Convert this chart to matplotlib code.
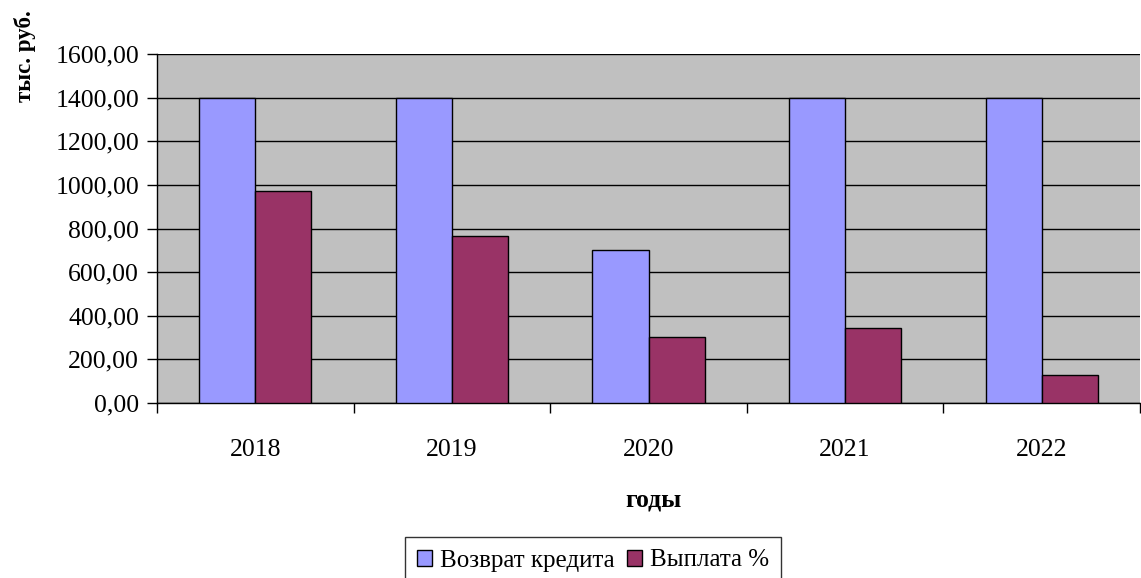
import numpy as np
import matplotlib.pyplot as plt
from matplotlib.ticker import FuncFormatter

years = ['2018', '2019', '2020', '2021', '2022']
vozvrat = [1400, 1400, 700, 1400, 1400]
vyplata = [973, 765, 303, 342, 127]

plt.rcParams['font.family'] = ['Liberation Serif', 'DejaVu Serif']

fig = plt.figure(figsize=(11.41, 5.78), dpi=100)
ax = fig.add_axes([157 / 1141, 175 / 578, 983 / 1141, 349 / 578])
ax.set_facecolor('#C0C0C0')

x = np.arange(len(years))
w = 1 / 3.5
ax.bar(x - w / 2, vozvrat, w, color='#9999FF', edgecolor='black', linewidth=1,
       label='Возврат кредита', zorder=3)
ax.bar(x + w / 2, vyplata, w, color='#993366', edgecolor='black', linewidth=1,
       label='Выплата %', zorder=3)

ax.set_xlim(-0.5, len(years) - 0.5)
ax.set_ylim(0, 1600)
ax.set_yticks(np.arange(0, 1601, 200))
ax.yaxis.set_major_formatter(FuncFormatter(lambda v, p: f'{v:.2f}'.replace('.', ',')))
ax.grid(axis='y', color='black', linewidth=1, zorder=1)

# category labels centered, ticks at boundaries
ax.set_xticks(x)
ax.set_xticklabels(years)
ax.tick_params(axis='x', length=0, labelsize=18.5, pad=26)
ax.set_xticks(np.arange(-0.5, len(years) + 0.5, 1), minor=True)
ax.tick_params(axis='x', which='minor', length=7, direction='out', width=1)
ax.tick_params(axis='y', length=7, direction='out', width=1, labelsize=18.5, pad=6)

for s in ['top', 'right']:
    ax.spines[s].set_visible(False)
ax.spines['left'].set_linewidth(1)
ax.spines['bottom'].set_linewidth(1)

fig.text(653 / 1141, 1 - 500 / 578, 'годы', ha='center', va='center',
         fontsize=18.5, fontweight='bold')
fig.text(25 / 1141, 1 - 56 / 578, 'тыс. руб.', ha='center', va='center',
         rotation=90, fontsize=16.5, fontweight='bold')

# legend box runs off the bottom edge like in the original
leg = fig.legend(loc='upper center', bbox_to_anchor=(593 / 1141, 1 - 537 / 578),
                 ncol=2, fontsize=18, frameon=True, fancybox=False,
                 edgecolor='black', handlelength=0.6, handleheight=0.6,
                 handletextpad=0.3, columnspacing=0.5, borderpad=0.5,
                 borderaxespad=0)
leg.get_frame().set_linewidth(1)

fig.savefig('out.png', dpi=100)
